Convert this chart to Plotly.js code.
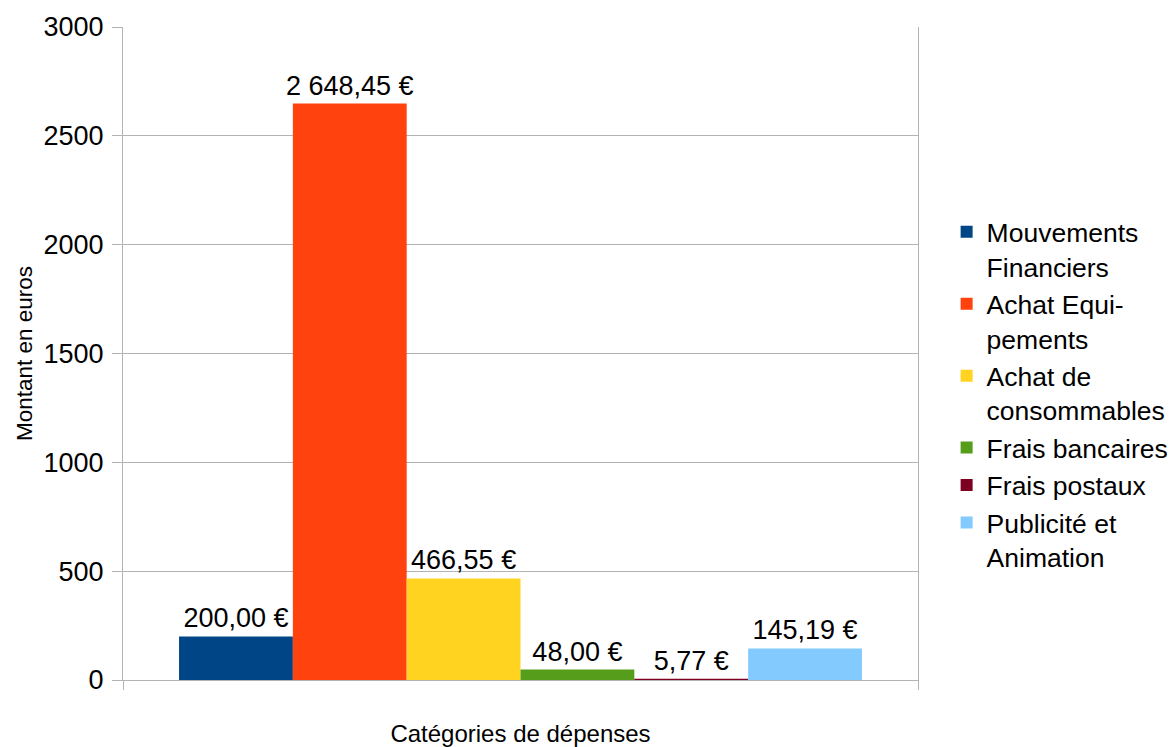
<!DOCTYPE html>
<html>
<head>
<meta charset="utf-8">
<script src="https://cdn.plot.ly/plotly-3.0.1.min.js"></script>
<style>html,body{margin:0;padding:0;background:#fff;}#chart{width:1173px;height:747px;}</style>
</head>
<body>
<div id="chart"></div>
<script>
const category = ["Catégories de dépenses"];
const seriesNames = ["Mouvements<br>Financiers", "Achat Equi-<br>pements", "Achat de<br>consommables", "Frais bancaires", "Frais postaux", "Publicité et<br>Animation"];
const seriesValues = [200.00, 2648.45, 466.55, 48.00, 5.77, 145.19];
const seriesColors = ["#004586", "#ff420e", "#ffd320", "#579d1c", "#7e0021", "#83caff"];
const yTicks = [0, 500, 1000, 1500, 2000, 2500, 3000];

const FONT = "Liberation Sans, Arial, sans-serif";
const traces = seriesNames.map((name, i) => ({
  type: "bar",
  name: name,
  legendgroup: "g" + i,
  x: category,
  y: [seriesValues[i]],
  marker: {color: seriesColors[i], line: {width: 0}},
  texttemplate: "%{y:,.2f} €",
  textposition: "outside",
  constraintext: "none",
  textfont: {family: FONT, size: 27, color: "#000"},
  cliponaxis: false,
  hoverinfo: "skip"
}));

const layout = {
  width: 1173, height: 747,
  margin: {l: 123, r: 255, t: 27, b: 67, autoexpand: false},
  paper_bgcolor: "#fff", plot_bgcolor: "#fff",
  separators: ", ",
  barmode: "group",
  bargap: 0.141,
  bargroupgap: 0,
  showlegend: true,
  font: {family: FONT, color: "#000"},
  xaxis: {
    type: "category",
    tickson: "boundaries",
    ticks: "outside", ticklen: 9, tickcolor: "#b3b3b3", tickwidth: 1,
    showticklabels: false,
    showgrid: true, gridcolor: "#b3b3b3",
    showline: true, linecolor: "#b3b3b3", linewidth: 1,
    zeroline: false,
    title: {text: "Catégories de dépenses", font: {family: FONT, size: 24, color: "#000"}, standoff: 47},
    automargin: false
  },
  yaxis: {
    range: [0, 3000],
    tickvals: yTicks,
    ticktext: yTicks.map(String),
    ticks: "outside", ticklen: 10, tickcolor: "#b3b3b3", tickwidth: 1,
    ticklabelstandoff: 3,
    tickfont: {family: FONT, size: 27, color: "#000"},
    showgrid: true, gridcolor: "#b3b3b3",
    showline: true, mirror: true, linecolor: "#b3b3b3", linewidth: 1,
    zeroline: false,
    title: {text: "Montant en euros", font: {family: FONT, size: 22.5, color: "#000"}, standoff: 4},
    automargin: false
  },
  legend: {
    x: 1.036, xanchor: "left", y: 0.437, yanchor: "middle",
    font: {family: FONT, size: 26.5, color: "#000"},
    traceorder: "normal",
    tracegroupgap: 3,
    valign: "top",
    itemclick: false, itemdoubleclick: false
  }
};

Plotly.newPlot("chart", traces, layout, {displayModeBar: false, staticPlot: true});
</script>
</body>
</html>
